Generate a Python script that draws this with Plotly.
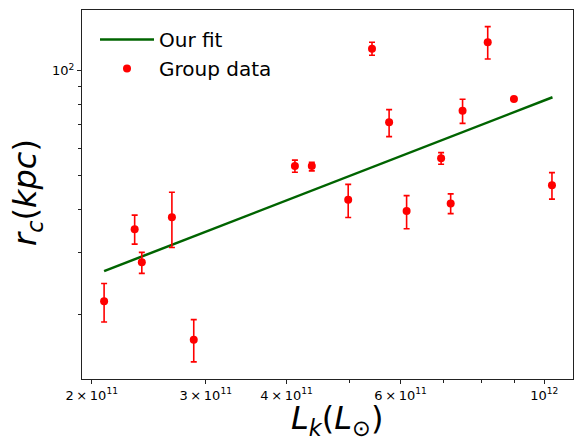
import plotly.graph_objects as go

# Data (log-log plot)
L_k = [2.09e11, 2.33e11, 2.39e11, 2.66e11, 2.875e11, 4.12e11, 4.375e11, 4.98e11,
       5.42e11, 5.76e11, 6.13e11, 6.93e11, 7.17e11, 7.48e11, 8.18e11, 8.98e11, 1.028e12]
r_c = [21.8, 35.1, 28.2, 38.0, 16.9, 53.3, 53.3, 42.6,
       115.6, 71.1, 39.6, 56.1, 41.6, 76.8, 120.6, 83.0, 46.9]
err_plus = [2.7, 3.4, 1.9, 6.8, 2.4, 2.1, 1.3, 4.6,
            5.1, 6.2, 4.2, 2.1, 2.7, 6.0, 13.2, 0.0, 4.1]
err_minus = [2.8, 3.3, 2.0, 6.9, 2.3, 2.2, 1.7, 4.7,
             4.9, 6.4, 4.4, 2.2, 2.7, 6.2, 12.6, 0.0, 4.1]

# Fit line end points (power law, straight in log-log)
fit_L = [2.09e11, 1.03e12]
fit_rc = [26.6, 83.9]

TS = "\u2009"
x_tickvals = [2e11, 3e11, 4e11, 6e11, 1e12]
x_ticktext = [f"2{TS}×{TS}10<sup>11</sup>", f"3{TS}×{TS}10<sup>11</sup>",
              f"4{TS}×{TS}10<sup>11</sup>", f"6{TS}×{TS}10<sup>11</sup>",
              "10<sup>12</sup>"]
x_minor = [5e11, 7e11, 8e11, 9e11]
y_tickvals = [100]
y_ticktext = ["10<sup>2</sup>"]
y_minor = [20, 30, 40, 50, 60, 70, 80, 90]

FONT = "DejaVu Sans"

fig = go.Figure()
fig.add_trace(go.Scatter(
    x=fit_L, y=fit_rc, mode="lines", name="Our fit",
    line=dict(color="#006400", width=2.5),
))
fig.add_trace(go.Scatter(
    x=L_k, y=r_c, mode="markers", name="Group data",
    marker=dict(color="#ff0000", size=8),
    error_y=dict(type="data", symmetric=False, array=err_plus, arrayminus=err_minus,
                 color="#ff0000", thickness=1.6, width=3),
))

W, H = 574, 437
ml, mr, mt, mb = 82, 1, 10, 58
pw, ph = W - ml - mr, H - mt - mb

def px_x(px):
    return (px - ml) / pw

def px_y(py):
    return (H - mb - py) / ph

axis_common = dict(
    type="log", showgrid=False, zeroline=False,
    showline=True, linecolor="#222", linewidth=1, mirror=True,
    ticks="outside", ticklen=4, tickwidth=1, tickcolor="#222",
    tickfont=dict(family=FONT, size=13, color="black"),
    tickmode="array",
)

fig.update_layout(
    width=W, height=H,
    margin=dict(l=ml, r=mr, t=mt, b=mb),
    paper_bgcolor="white", plot_bgcolor="white",
    font=dict(family=FONT, color="black"),
    showlegend=True,
    legend=dict(
        x=px_x(95), y=px_y(20), xanchor="left", yanchor="top",
        bgcolor="rgba(255,255,255,0)", borderwidth=0,
        font=dict(family=FONT, size=20, color="black"),
        itemwidth=54,
    ),
    xaxis=dict(
        **axis_common,
        range=[11.286, 12.0445],
        tickvals=x_tickvals, ticktext=x_ticktext,
        minor=dict(tickmode="array", tickvals=x_minor, ticks="outside",
                   ticklen=3, tickcolor="#222", showgrid=False),
    ),
    yaxis=dict(
        **axis_common,
        range=[1.1153, 2.1742],
        tickvals=y_tickvals, ticktext=y_ticktext,
        minor=dict(tickmode="array", tickvals=y_minor, ticks="outside",
                   ticklen=3, tickcolor="#222", showgrid=False),
    ),
    annotations=[
        dict(text="<i>L</i><sub><i>k</i></sub>(<i>L</i><sub>⊙</sub>)",
             xref="paper", yref="paper", x=px_x(337), y=px_y(420),
             xanchor="center", yanchor="middle", showarrow=False,
             font=dict(family=FONT, size=32, color="black")),
        dict(text="<i>r</i><sub><i>c</i></sub>(<i>kpc</i>)",
             xref="paper", yref="paper", x=px_x(27), y=px_y(193),
             xanchor="center", yanchor="middle", showarrow=False, textangle=-90,
             font=dict(family=FONT, size=32, color="black")),
    ],
)

fig.write_html(
    "out.html",
    config={"displayModeBar": False},
    post_script="document.body.style.margin='0';document.body.style.overflow='hidden';",
)
